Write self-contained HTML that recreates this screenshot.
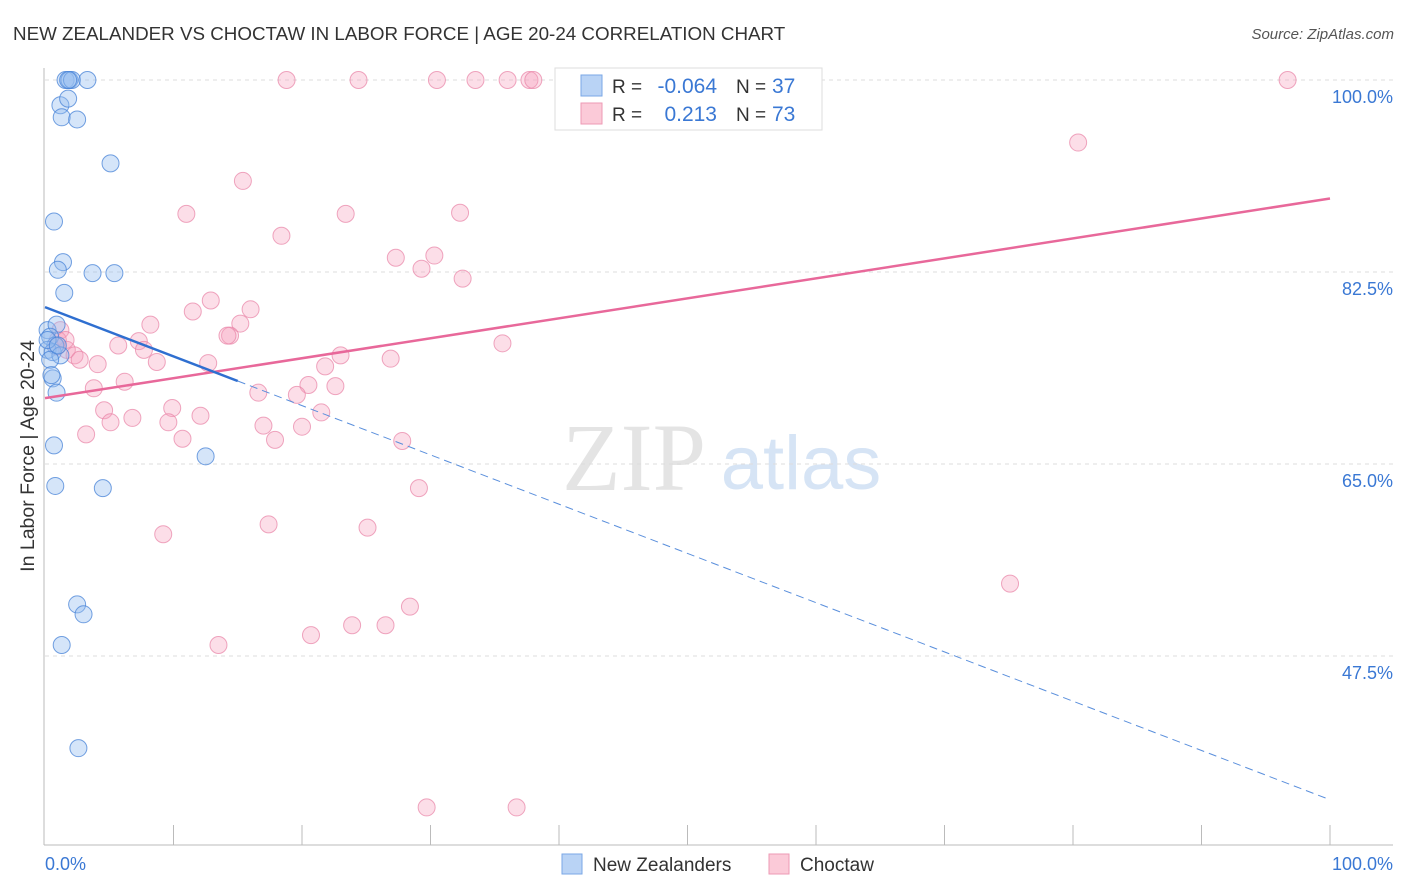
<!DOCTYPE html>
<html><head><meta charset="utf-8"><style>
body{margin:0;background:#fff;font-family:"Liberation Sans",sans-serif;}
svg{display:block}
</style></head><body>
<svg id="chart" width="1406" height="892" xmlns="http://www.w3.org/2000/svg">
<text x="13" y="40" font-size="18.8" fill="#333">NEW ZEALANDER VS CHOCTAW IN LABOR FORCE | AGE 20-24 CORRELATION CHART</text>
<text x="1394" y="39" font-size="15" fill="#555" font-style="italic" text-anchor="end">Source: ZipAtlas.com</text>
<text x="34" y="456" font-size="19.5" fill="#333" text-anchor="middle" transform="rotate(-90 34 456)">In Labor Force | Age 20-24</text>
<g>
<text x="634" y="490" font-size="96" font-family="Liberation Serif,serif" fill="#e4e4e4" text-anchor="middle">ZIP</text>
<text x="801" y="489" font-size="76" fill="#d6e4f5" text-anchor="middle">atlas</text>
</g>
<g id="grid"></g>
<g id="axes"></g>
<g id="marks"></g>
<g>
<rect x="555" y="68" width="267" height="62" fill="#fff" stroke="#ddd"/>
<rect x="581" y="75" width="21" height="21" fill="#b9d3f5" stroke="#7aa7e6"/>
<rect x="581" y="103" width="21" height="21" fill="#fbcad8" stroke="#ee9ab5"/>
<text x="612" y="93" font-size="19" fill="#333">R =</text>
<text x="717" y="93" font-size="21" fill="#3a78d4" text-anchor="end">-0.064</text>
<text x="736" y="93" font-size="19" fill="#333">N =</text>
<text x="772" y="93" font-size="21" fill="#3a78d4">37</text>
<text x="612" y="121" font-size="19" fill="#333">R =</text>
<text x="717" y="121" font-size="21" fill="#3a78d4" text-anchor="end">0.213</text>
<text x="736" y="121" font-size="19" fill="#333">N =</text>
<text x="772" y="121" font-size="21" fill="#3a78d4">73</text>
</g>
<g>
<rect x="562" y="854" width="20" height="20" fill="#b9d3f5" stroke="#7aa7e6"/>
<text x="593" y="871" font-size="19" fill="#333">New Zealanders</text>
<rect x="769" y="854" width="20" height="20" fill="#fbcad8" stroke="#ee9ab5"/>
<text x="800" y="871" font-size="19" fill="#333">Choctaw</text>
</g>
</svg>
<script>
const yTicks=[100,82.5,65,47.5];
const yTickLabels=["100.0%","82.5%","65.0%","47.5%"];
const xTickLabels=["0.0%","100.0%"];
const blueX=[1.6,1.9,2.1,3.3,1.8,1.2,1.8,1.3,2.5,5.1,0.7,1.4,1.0,3.7,5.4,1.5,0.2,0.9,0.4,0.8,0.2,0.6,1.2,0.4,0.6,0.9,0.7,0.8,4.5,12.5,2.5,3.0,1.3,2.6,0.2,0.5,1.0];
const blueY=[100,100,100,100,100,97.7,98.3,96.6,96.4,92.4,87.1,83.4,82.7,82.4,82.4,80.6,77.2,77.7,76.6,75.8,75.4,75.2,74.9,74.5,72.8,71.5,66.7,63.0,62.8,65.7,52.2,51.3,48.5,39.1,76.3,73.1,75.8];
const pinkX=[18.8,24.4,30.5,33.5,36.0,37.7,38.0,96.7,80.4,15.4,11.0,23.4,32.3,18.4,27.3,30.3,29.3,32.5,12.9,11.5,16.0,8.2,15.2,14.4,14.2,35.6,5.7,7.3,7.7,23.0,1.2,1.0,1.7,2.3,2.7,4.1,8.7,12.7,26.9,21.8,6.2,3.8,20.5,22.6,16.6,19.6,4.6,9.9,21.5,12.1,5.1,6.8,9.6,17.0,20.0,3.2,10.7,17.9,27.8,29.1,17.4,25.1,9.2,75.1,28.4,23.9,26.5,20.7,13.5,29.7,36.7,0.9,1.6];
const pinkY=[100,100,100,100,100,100,100,100,94.3,90.8,87.8,87.8,87.9,85.8,83.8,84.0,82.8,81.9,79.9,78.9,79.1,77.7,77.8,76.7,76.7,76.0,75.8,76.2,75.4,74.9,77.2,76.3,75.4,74.9,74.5,74.1,74.3,74.2,74.6,73.9,72.5,71.9,72.2,72.1,71.5,71.3,69.9,70.1,69.7,69.4,68.8,69.2,68.8,68.5,68.4,67.7,67.3,67.2,67.1,62.8,59.5,59.2,58.6,54.1,52.0,50.3,50.3,49.4,48.5,33.7,33.7,75.7,76.3];
const blueTrend=[79.3,-0.449]; // intercept, slope
const blueSolidEnd=15;
const pinkTrend=[71.0,0.182];
const X0=45,X1=1330,Y100=80,PXPER=192/17.5;
const sx=v=>X0+(X1-X0)*v/100;
const sy=v=>Y100+(100-v)*PXPER;
const NS="http://www.w3.org/2000/svg";
function mk(tag,attrs,parent){const e=document.createElementNS(NS,tag);for(const k in attrs)e.setAttribute(k,attrs[k]);parent.appendChild(e);return e;}
const grid=document.getElementById('grid'),axes=document.getElementById('axes'),marks=document.getElementById('marks');
yTicks.forEach((t,i)=>{
 const l=mk('line',{x1:45,x2:1393,y1:sy(t),y2:sy(t),stroke:'#ddd','stroke-dasharray':'4,4'},grid);
 
 
 const tx=mk('text',{x:1393,y:sy(t)+23,'font-size':18,fill:'#3a78d4','text-anchor':'end'},axes);
 tx.textContent=yTickLabels[i];
 
 
});
const ya=mk('line',{x1:44,x2:44,y1:68,y2:845,stroke:'#bbb'},axes);


const xa=mk('line',{x1:44,x2:1393,y1:845,y2:845,stroke:'#bbb'},axes);


for(let i=1;i<=10;i++){
 const t=mk('line',{x1:sx(i*10),x2:sx(i*10),y1:825,y2:845,stroke:'#bbb'},axes);
 
 
}
[[0,'start'],[100,'end']].forEach((p,i)=>{
 const tx=mk('text',{x:i?1393:45,y:870,'font-size':18,fill:'#3a78d4','text-anchor':p[1]},axes);
 tx.textContent=xTickLabels[i];
 
 
});
pinkX.forEach((x,i)=>{
 const c=mk('circle',{cx:sx(x),cy:sy(pinkY[i]),r:8.5,fill:'rgba(246,160,188,0.35)',stroke:'rgba(232,130,165,0.7)','stroke-width':1},marks);
 
 
});
blueX.forEach((x,i)=>{
 const c=mk('circle',{cx:sx(x),cy:sy(blueY[i]),r:8.5,fill:'rgba(150,190,240,0.4)',stroke:'rgba(70,130,215,0.75)','stroke-width':1},marks);
 
 
});
const bt=v=>blueTrend[0]+blueTrend[1]*v, pt=v=>pinkTrend[0]+pinkTrend[1]*v;
const pl=mk('line',{x1:sx(0),y1:sy(pt(0)),x2:sx(100),y2:sy(pt(100)),stroke:'#e8689a','stroke-width':2.5},marks);


const bl=mk('line',{x1:sx(0),y1:sy(bt(0)),x2:sx(blueSolidEnd),y2:sy(bt(blueSolidEnd)),stroke:'#2f6fd0','stroke-width':2.5},marks);


const bd=mk('line',{x1:sx(blueSolidEnd),y1:sy(bt(blueSolidEnd)),x2:sx(100),y2:sy(bt(100)),stroke:'#5a8fdc','stroke-width':1,'stroke-dasharray':'8,5'},marks);


</script>
</body></html>
